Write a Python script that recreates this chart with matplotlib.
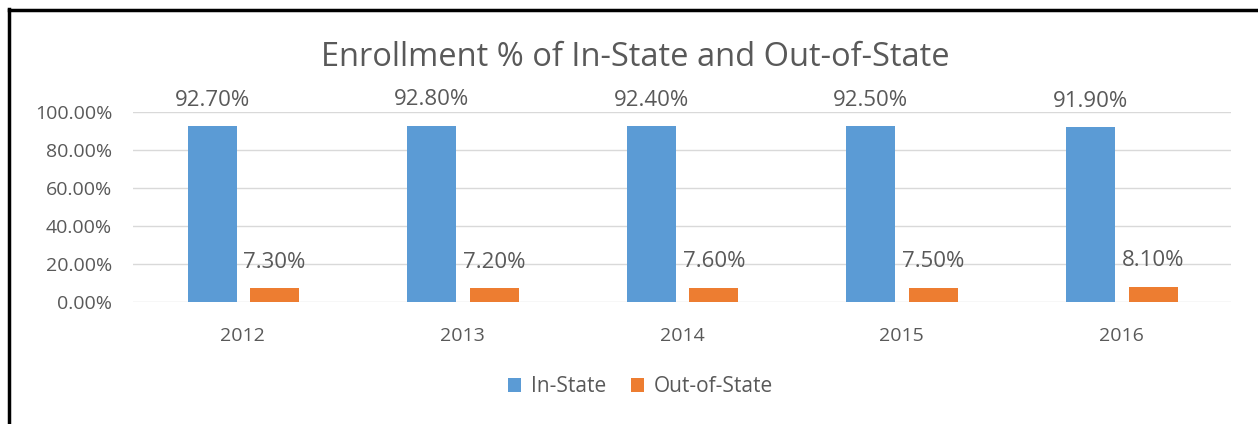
import numpy as np
import matplotlib.pyplot as plt
from matplotlib.lines import Line2D

plt.rcParams['font.family'] = ['Open Sans', 'DejaVu Sans']

years = ['2012', '2013', '2014', '2015', '2016']
in_state = [92.7, 92.8, 92.4, 92.5, 91.9]
out_state = [7.3, 7.2, 7.6, 7.5, 8.1]

blue = '#5B9BD5'
orange = '#ED7D31'
grey = '#595959'

fig = plt.figure(figsize=(12.58, 4.24), dpi=100)
ax = fig.add_axes([133 / 1258, 1 - 302 / 424, 1098 / 1258, 190 / 424])

x = np.arange(len(years))
w = 0.223
b1 = ax.bar(x - 0.14, in_state, w, color=blue, label='In-State', zorder=3)
b2 = ax.bar(x + 0.145, out_state, w, color=orange, label='Out-of-State', zorder=3)

for bars, vals in ((b1, in_state), (b2, out_state)):
    for r, v in zip(bars, vals):
        ax.annotate('%.2f%%' % v, (r.get_x() + r.get_width() / 2, v),
                    xytext=(0, 11), textcoords='offset points',
                    ha='center', va='bottom', fontsize=16, color=grey)

ax.set_xlim(-0.5, 4.5)
ax.set_ylim(0, 100)
ax.set_yticks(np.arange(0, 101, 20))
ax.set_yticklabels(['%.2f%%' % t for t in np.arange(0, 101, 20)])
ax.set_xticks(x)
ax.set_xticklabels(years)
ax.tick_params(length=0, labelsize=14, labelcolor=grey)
ax.tick_params(axis='x', pad=18)
ax.tick_params(axis='y', pad=15)
ax.grid(axis='y', color='#D9D9D9', linewidth=1.0, zorder=0)
for s in ax.spines.values():
    s.set_visible(False)

fig.text(0.505, 1 - 58 / 424, 'Enrollment % of In-State and Out-of-State',
         ha='center', va='center', fontsize=23.5, color=grey)

ax.legend(loc='center', bbox_to_anchor=(0.509, 1 - 387 / 424), bbox_transform=fig.transFigure,
          ncol=2, frameon=False, fontsize=15, labelcolor=grey,
          handlelength=0.65, handleheight=0.65, handletextpad=0.45, columnspacing=1.2)

# frame edges from the screenshot
fig.add_artist(Line2D([8.5 / 1258, 8.5 / 1258], [0, 1 - 8.5 / 424], color='black', linewidth=2.5))
fig.add_artist(Line2D([8.5 / 1258, 1], [1 - 9.5 / 424, 1 - 9.5 / 424], color='black', linewidth=2.5))

fig.savefig('out.png', dpi=100)
